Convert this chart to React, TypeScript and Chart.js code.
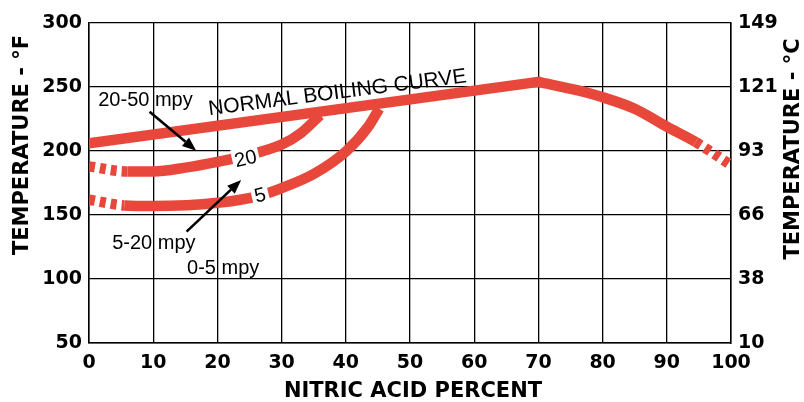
import React, { useEffect, useRef } from "react";
import { Chart, registerables } from "chart.js";

Chart.register(...registerables);

// ---- data ----
const fahrenheitTicks = [50, 100, 150, 200, 250, 300];
const celsiusLabels = ["10", "38", "66", "93", "121", "149"];

const boilingRiseX = [0, 70];
const boilingRiseY = [206, 254];
const boilingFallX = [70, 76, 80, 85, 90, 94.5, 100];
const boilingFallY = [254, 247.5, 242, 233, 219, 207, 189];
const curve20X = [0, 6, 10, 15, 20, 25, 30, 33, 36];
const curve20Y = [188, 184, 184, 187, 191.5, 197, 205, 214, 228];
const curve5X = [0, 5.5, 10, 20, 26.5, 30, 35, 40, 43.5, 45.2];
const curve5Y = [162, 157.5, 157, 159.5, 165, 171, 182, 199.5, 219, 233];

const leadingDashEnd = 6; // dashed from x=0 to here on the 20 and 5 curves
const trailingDashStart = 94.5; // boiling curve dashed from here

const textLabels = [
  { text: "20-50 mpy", x: 8.8, y: 239.8 },
  { text: "5-20 mpy", x: 10.1, y: 128 },
  { text: "0-5 mpy", x: 20.9, y: 108.6 },
];
const curveNote = { text: "NORMAL BOILING CURVE", x: 38.7, y: 245.3, angle: -7.3 };
const inlineLabels = [
  { text: "20", x: 24.4, y: 194.3, angle: -13 },
  { text: "5", x: 26.65, y: 165.6, angle: -14 },
];
const arrowsFrom = [
  [9.44, 230.7],
  [15.2, 137],
];
const arrowsTo = [
  [16.7, 200.2],
  [23.7, 177.3],
];

const xTitle = "NITRIC ACID PERCENT";
const yTitle = "TEMPERATURE - °F";
const y2Title = "TEMPERATURE - °C";

// ---- styles ----
const RED = "rgb(232,72,60)";
const TITLE_FONT = "bold 21px 'DejaVu Sans', sans-serif";
const NOTE_FONT = "20px 'Liberation Sans', Arial, sans-serif";
const TICK_FONT = { family: "'DejaVu Sans', sans-serif", weight: "bold", size: 19 };
const inlineBox = [
  { w: 27, h: 22 },
  { w: 17, h: 22 },
];

const toPts = (xs: number[], ys: number[]) => xs.map((x, i) => ({ x, y: ys[i] }));

const annotPlugin = {
  id: "annot",
  afterDatasetsDraw(chart: any) {
    const { ctx, scales } = chart;
    const px = (v: number) => scales.x.getPixelForValue(v);
    const py = (v: number) => scales.y.getPixelForValue(v);
    ctx.save();
    inlineLabels.forEach((l, i) => {
      ctx.save();
      ctx.translate(px(l.x), py(l.y));
      ctx.rotate((l.angle * Math.PI) / 180);
      ctx.fillStyle = "#fff";
      ctx.fillRect(-inlineBox[i].w / 2, -inlineBox[i].h / 2, inlineBox[i].w, inlineBox[i].h);
      ctx.fillStyle = "#000";
      ctx.font = NOTE_FONT;
      ctx.textAlign = "center";
      ctx.textBaseline = "middle";
      ctx.fillText(l.text, 0, 1);
      ctx.restore();
    });
    ctx.fillStyle = "#000";
    ctx.font = NOTE_FONT;
    ctx.textAlign = "center";
    ctx.textBaseline = "middle";
    textLabels.forEach((l) => ctx.fillText(l.text, px(l.x), py(l.y)));
    ctx.save();
    ctx.translate(px(curveNote.x), py(curveNote.y));
    ctx.rotate((curveNote.angle * Math.PI) / 180);
    ctx.font = "21px 'Liberation Sans', Arial, sans-serif";
    ctx.fillText(curveNote.text, 0, 0);
    ctx.restore();
    arrowsFrom.forEach((f, i) => {
      const x0 = px(f[0]);
      const y0 = py(f[1]);
      const x1 = px(arrowsTo[i][0]);
      const y1 = py(arrowsTo[i][1]);
      const ang = Math.atan2(y1 - y0, x1 - x0);
      const head = 14;
      const half = 5.5;
      const bx = x1 - head * Math.cos(ang);
      const by = y1 - head * Math.sin(ang);
      ctx.strokeStyle = "#000";
      ctx.lineWidth = 2.6;
      ctx.beginPath();
      ctx.moveTo(x0, y0);
      ctx.lineTo(bx, by);
      ctx.stroke();
      ctx.beginPath();
      ctx.moveTo(x1, y1);
      ctx.lineTo(bx + half * Math.sin(ang), by - half * Math.cos(ang));
      ctx.lineTo(bx - half * Math.sin(ang), by + half * Math.cos(ang));
      ctx.closePath();
      ctx.fill();
    });
    ctx.restore();
  },
  afterDraw(chart: any) {
    const { ctx, chartArea } = chart;
    ctx.save();
    ctx.fillStyle = "#000";
    ctx.font = TITLE_FONT;
    ctx.textAlign = "center";
    ctx.textBaseline = "middle";
    ctx.fillText(xTitle, (chartArea.left + chartArea.right) / 2 + 3, 392);
    ctx.save();
    ctx.translate(23, 145);
    ctx.rotate(-Math.PI / 2);
    ctx.fillText(yTitle, 0, 0);
    ctx.restore();
    ctx.save();
    ctx.translate(794, 149);
    ctx.rotate(-Math.PI / 2);
    ctx.fillText(y2Title, 0, 0);
    ctx.restore();
    ctx.restore();
  },
};

export default function App() {
  const ref = useRef<HTMLCanvasElement | null>(null);
  useEffect(() => {
    document.body.style.margin = "0";
    if (!ref.current) return;
    const lineBase = {
      borderColor: RED,
      backgroundColor: RED,
      borderWidth: 10.5,
      pointRadius: 0,
      fill: false,
      clip: 0,
      borderCapStyle: "butt",
      borderJoinStyle: "round",
    };
    const chart = new Chart(ref.current, {
      type: "line",
      data: {
        datasets: [
          { ...lineBase, data: toPts(boilingRiseX, boilingRiseY), tension: 0, borderCapStyle: "round" },
          {
            ...lineBase,
            data: toPts(boilingFallX, boilingFallY),
            cubicInterpolationMode: "monotone",
            tension: 0.4,
            segment: {
              borderDash: (c: any) => (c.p0.parsed.x >= trailingDashStart ? [6, 5] : undefined),
            },
          },
          {
            ...lineBase,
            data: toPts(curve20X, curve20Y),
            cubicInterpolationMode: "monotone",
            tension: 0.4,
            segment: {
              borderDash: (c: any) => (c.p1.parsed.x <= leadingDashEnd ? [6, 5] : undefined),
            },
          },
          {
            ...lineBase,
            data: toPts(curve5X, curve5Y),
            cubicInterpolationMode: "monotone",
            tension: 0.4,
            segment: {
              borderDash: (c: any) => (c.p1.parsed.x <= leadingDashEnd ? [6, 5] : undefined),
            },
          },
        ] as any,
      },
      options: {
        responsive: false,
        animation: false,
        devicePixelRatio: 1,
        layout: { padding: { top: 23, left: 0, right: 0, bottom: 0 } },
        plugins: { legend: { display: false }, tooltip: { enabled: false } },
        scales: {
          x: {
            type: "linear",
            min: 0,
            max: 100,
            ticks: { stepSize: 10, color: "#000", font: TICK_FONT, padding: 9, maxRotation: 0 },
            grid: { color: "#000", lineWidth: 1.3, drawTicks: false },
            border: { color: "#000", width: 1.5 },
            afterFit: (s: any) => {
              s.height = 59;
            },
          },
          y: {
            type: "linear",
            position: "left",
            min: 50,
            max: 300,
            afterBuildTicks: (s: any) => {
              s.ticks = fahrenheitTicks.map((v) => ({ value: v }));
            },
            ticks: { color: "#000", font: TICK_FONT, padding: 7 },
            grid: { color: "#000", lineWidth: 1.3, drawTicks: false },
            border: { color: "#000", width: 1.5 },
            afterFit: (s: any) => {
              s.width = 89;
            },
          },
          y2: {
            type: "linear",
            position: "right",
            min: 50,
            max: 300,
            afterBuildTicks: (s: any) => {
              s.ticks = fahrenheitTicks.map((v) => ({ value: v }));
            },
            ticks: {
              color: "#000",
              font: TICK_FONT,
              padding: 7,
              callback: (v: any) => celsiusLabels[fahrenheitTicks.indexOf(Number(v))] ?? "",
            },
            grid: { display: false, drawTicks: false },
            border: { color: "#000", width: 1.5 },
            afterFit: (s: any) => {
              s.width = 73;
            },
          },
        },
      } as any,
      plugins: [annotPlugin],
    });
    return () => chart.destroy();
  }, []);
  return (
    <div style={{ width: 804, height: 402, background: "#fff" }}>
      <canvas ref={ref} width={804} height={402} style={{ display: "block" }} />
    </div>
  );
}
